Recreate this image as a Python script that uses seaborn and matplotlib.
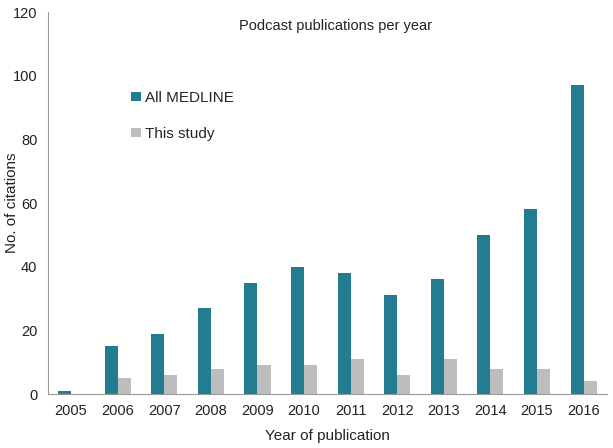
import pandas as pd
import matplotlib
matplotlib.use("Agg")
import matplotlib.pyplot as plt
import seaborn as sns
from matplotlib.ticker import FixedLocator

# ------------------------ data ------------------------
years = ["2005", "2006", "2007", "2008", "2009", "2010",
         "2011", "2012", "2013", "2014", "2015", "2016"]
all_medline = [1, 15, 19, 27, 35, 40, 38, 31, 36, 50, 58, 97]
this_study = [0, 5, 6, 8, 9, 9, 11, 6, 11, 8, 8, 4]
series_names = ["All MEDLINE", "This study"]

df = pd.DataFrame({
    "year": years * 2,
    "count": all_medline + this_study,
    "series": [series_names[0]] * len(years) + [series_names[1]] * len(years),
})

# ------------------------ plot ------------------------
sns.set_style("white")
plt.rcParams["font.family"] = ["Liberation Sans", "DejaVu Sans"]

fig = plt.figure(figsize=(6.13, 4.48), dpi=100)
ax = fig.add_axes([0.078, 0.1205, 0.912, 0.8525])

sns.barplot(
    data=df, x="year", y="count", hue="series",
    palette=["#237c90", "#bdbdbd"], width=0.56,
    saturation=1, linewidth=0, ax=ax,
)

ax.set_xlim(-0.5, len(years) - 0.5)
ax.set_ylim(0, 120)
ax.set_yticks(range(0, 121, 20))

# excel-style ticks between categories
ax.xaxis.set_minor_locator(FixedLocator([i - 0.5 for i in range(len(years) + 1)]))
ax.tick_params(axis="x", which="major", length=0, labelsize=10.5, pad=7, colors="#222222")
ax.tick_params(axis="x", which="minor", length=4, width=0.8, color="#999999", direction="out")
ax.tick_params(axis="y", length=4, width=0.8, color="#999999", direction="out",
               labelsize=10.5, labelcolor="#222222")

for side in ["top", "right"]:
    ax.spines[side].set_visible(False)
for side in ["left", "bottom"]:
    ax.spines[side].set_color("#999999")
    ax.spines[side].set_linewidth(0.8)

ax.set_xlabel("Year of publication", fontsize=11, color="#222222")
ax.set_ylabel("No. of citations", fontsize=11, color="#222222")
ax.xaxis.set_label_coords(0.5, -0.092)
ax.yaxis.set_label_coords(-0.052, 0.5)

ax.text(0.515, 0.964, "Podcast publications per year", transform=ax.transAxes,
        ha="center", va="center", fontsize=10.5, color="#222222")

leg = ax.legend(
    loc="upper left", bbox_to_anchor=(0.125, 0.83), frameon=False,
    handlelength=0.6, handleheight=0.6, handletextpad=0.3,
    labelspacing=1.45, fontsize=11,
)

plt.savefig("out.png", dpi=100)
